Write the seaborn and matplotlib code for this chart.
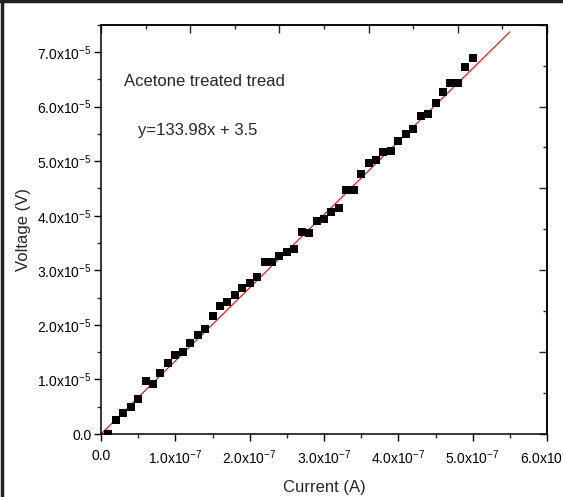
import matplotlib
matplotlib.use("Agg")
import matplotlib.pyplot as plt
import seaborn as sns
import pandas as pd
from matplotlib.ticker import MultipleLocator, FuncFormatter
from matplotlib.lines import Line2D

# -------------------------
# Data
# -------------------------
current_e8 = list(range(1, 51))  # current in units of 1e-8 A
voltage_e5 = [0.0, 0.257, 0.391, 0.50, 0.637, 0.967, 0.917, 1.125, 1.297, 1.444,
              1.505, 1.664, 1.822, 1.921, 2.165, 2.349, 2.422, 2.545, 2.679, 2.776,
              2.886, 3.143, 3.156, 3.253, 3.327, 3.389, 3.694, 3.683, 3.908, 3.939,
              4.061, 4.141, 4.464, 4.464, 4.765, 4.967, 5.015, 5.169, 5.180, 5.363,
              5.492, 5.591, 5.835, 5.872, 6.068, 6.262, 6.435, 6.435, 6.734, 6.894]
fit_slope = 133.98
fit_intercept = 0.0
fit_range = [0.0, 5.5e-7]
label_title = "Acetone treated tread"
label_fit = "y=133.98x + 3.5"

df = pd.DataFrame({"current": [c * 1e-8 for c in current_e8],
                   "voltage": [v * 1e-5 for v in voltage_e5]})
fit_df = pd.DataFrame({"current": fit_range,
                       "voltage": [fit_slope * x + fit_intercept for x in fit_range]})

# -------------------------
# Style
# -------------------------
sns.set_style("white")
plt.rcParams["font.family"] = ["Liberation Sans", "DejaVu Sans"]
plt.rcParams["mathtext.default"] = "regular"

fig = plt.figure(figsize=(5.63, 4.97), dpi=100)
ax = fig.add_axes([101 / 563, 1 - 434 / 497, 446 / 563, 409.3 / 497])

sns.lineplot(data=fit_df, x="current", y="voltage", color="red", linewidth=0.8, ax=ax)
sns.scatterplot(data=df, x="current", y="voltage", marker="s", s=30, color="black",
                linewidth=0, ax=ax, zorder=3)

ax.set_xlim(0, 6e-7)
ax.set_ylim(0, 7.5e-5)


def fmt(exp):
    def f(v, pos):
        if abs(v) < 1e-20:
            return "0.0"
        return f"{v / 10**exp:.1f}x10$^{{{exp}}}$"
    return FuncFormatter(f)


ax.xaxis.set_major_locator(MultipleLocator(1e-7))
ax.xaxis.set_minor_locator(MultipleLocator(0.5e-7))
ax.yaxis.set_major_locator(MultipleLocator(1e-5))
ax.yaxis.set_minor_locator(MultipleLocator(0.5e-5))
ax.xaxis.set_major_formatter(fmt(-7))
ax.yaxis.set_major_formatter(fmt(-5))
ax.tick_params(which="major", direction="out", length=5, width=1, labelsize=10,
               colors="black", bottom=True, left=True, top=False, right=False)
ax.tick_params(which="minor", direction="out", length=3, width=1,
               bottom=True, left=True, top=False, right=False)
ax.tick_params(axis="y", which="major", pad=2)
ax.tick_params(axis="x", which="major", pad=5.5)

# top / right axes with their own tick spacing, ticks pointing inward
top = ax.secondary_xaxis("top")
top.xaxis.set_major_locator(MultipleLocator(1.2e-7))
top.xaxis.set_minor_locator(MultipleLocator(0.6e-7))
top.tick_params(which="major", direction="in", length=6, width=1, labeltop=False)
top.tick_params(which="minor", direction="in", length=3.2, width=1)
right = ax.secondary_yaxis("right")
right.yaxis.set_major_locator(MultipleLocator(1.5e-5))
right.yaxis.set_minor_locator(MultipleLocator(0.75e-5))
right.tick_params(which="major", direction="in", length=6, width=1, labelright=False)
right.tick_params(which="minor", direction="in", length=3.2, width=1)
for sec in (top, right):
    for sp in sec.spines.values():
        sp.set_linewidth(1.1)
        sp.set_color("black")

for sp in ax.spines.values():
    sp.set_visible(True)
    sp.set_linewidth(1.1)
    sp.set_color("black")

ax.set_xlabel("Current (A)", fontsize=12, labelpad=9)
ax.set_ylabel("Voltage (V)", fontsize=12, labelpad=4)

ax.text(0.052, 0.862, label_title, transform=ax.transAxes, fontsize=12, va="center")
ax.text(0.083, 0.741, label_fit, transform=ax.transAxes, fontsize=12, va="center")

# frame around the figure (top and left edges visible in the reference)
fig.add_artist(Line2D([0.003, 0.003], [0, 1], transform=fig.transFigure,
                      color="#222222", linewidth=2.5))
fig.add_artist(Line2D([0, 1], [0.997, 0.997], transform=fig.transFigure,
                      color="#222222", linewidth=2.5))

fig.savefig("out.png", dpi=100)
